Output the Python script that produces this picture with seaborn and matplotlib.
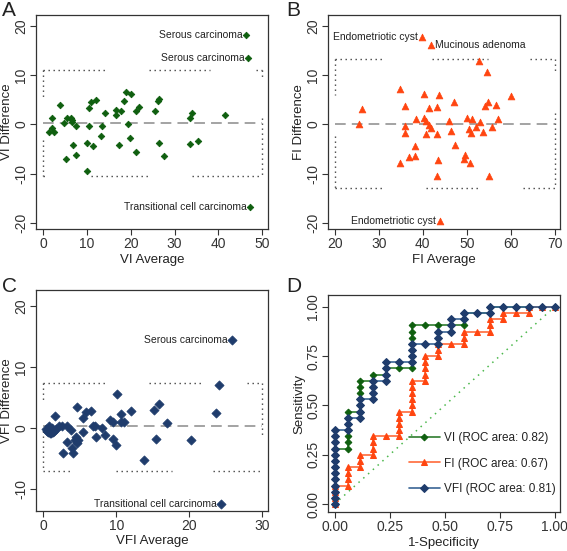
import numpy as np
import pandas as pd
import seaborn as sns
import matplotlib
import matplotlib.pyplot as plt

sns.set_style('ticks')
matplotlib.rcParams['font.family'] = ['Liberation Sans', 'DejaVu Sans']
matplotlib.rcParams['axes.edgecolor'] = '#333333'
matplotlib.rcParams['xtick.color'] = '#333333'
matplotlib.rcParams['ytick.color'] = '#333333'
matplotlib.rcParams['text.color'] = '#222222'
matplotlib.rcParams['axes.labelcolor'] = '#222222'

GREEN = '#0f5f0f'
ORANGE = '#ff4510'
NAVY = '#1f3c6c'

# ---------------- A : VI agreement ----------------
vi_avg = [46.4, 46.8, 47.3, 3.8, 1.9, 1.9, 1.4, 2.4, 4.7, 5.3, 6.3, 6.5, 6.5, 7.4,
          6.8, 5.2, 7.4, 10.0, 10.0, 10.5, 10.5, 10.8, 11.4, 12.1, 13.2, 13.5, 14.1,
          16.6, 16.6, 17.3, 17.7, 18.4, 18.8, 19.3, 20.0, 19.7, 21.1, 21.1, 21.8,
          25.6, 26.3, 26.5, 26.5, 27.6, 33.5, 33.9, 33.6, 35.3, 41.6]
vi_diff = [18.2, 13.4, -16.8, 3.9, 1.2, -0.7, -1.5, -1.5, 0.3, 1.2, 1.2, 0.9, 0.5, -0.3,
           -4.3, -7.0, -6.3, -3.9, -9.4, -0.3, 3.3, 4.5, -4.5, 4.9, -2.4, -0.3, 2.3,
           2.9, 1.9, -4.3, 2.7, 4.7, 6.5, 0.1, 6.1, -2.7, -5.6, 2.7, 3.5,
           2.7, 4.7, 5.1, -3.9, -6.4, 1.3, 2.3, -4.1, -3.3, 1.9]
vi_notes = [(46.4, 18.2, 'Serous carcinoma'), (46.8, 13.4, 'Serous carcinoma'),
            (47.3, -16.8, 'Transitional cell carcinoma')]
vi_mean, vi_upper, vi_lower = 0.2, 11.0, -10.6

# ---------------- B : FI agreement ----------------
fi_avg = [39.8, 41.9, 44.0, 26.3, 25.6, 34.8, 36.0, 36.0, 36.0, 34.8, 36.9, 38.2,
          38.2, 38.5, 40.4, 40.4, 40.7, 41.4, 41.4, 41.9, 40.8, 43.3, 43.7, 43.3,
          43.4, 43.2, 46.0, 52.7, 54.5, 60.1, 47.0, 54.8, 54.2, 56.6, 57.0, 50.1,
          51.3, 53.0, 52.1, 55.7, 46.4, 50.5, 51.0, 53.7, 47.3, 49.6, 49.4, 50.8, 55.0]
fi_diff = [17.7, 16.1, -19.7, 3.0, 0.0, 7.2, 3.8, -0.4, -1.8, -7.8, -6.6, -4.4,
           -6.4, 1.0, 6.2, 1.3, 0.7, 3.4, -0.1, -0.7, -2.0, 3.6, 6.0, -2.0,
           -7.3, -10.4, 0.7, 12.8, 10.6, 5.8, 4.5, 4.5, 3.8, 4.0, 1.0, 1.3,
           1.1, 0.5, -0.5, -0.5, -1.4, -1.0, -1.8, -1.6, -4.3, -6.3, -7.1, -7.9, -10.4]
fi_notes = [(39.8, 17.7, 'Endometriotic cyst'), (44.0, -19.7, 'Endometriotic cyst')]
fi_notes_right = [(41.9, 16.1, 'Mucinous adenoma')]
fi_mean, fi_upper, fi_lower = 0.0, 13.2, -13.0

# ---------------- C : VFI agreement ----------------
vfi_avg = [25.8, 24.4, 24.1, 23.7, 20.2, 16.9, 15.9, 15.1, 15.5, 13.8, 12.0, 10.7,
           10.7, 11.0, 10.1, 9.9, 9.6, 9.1, 9.6, 8.45, 8.0, 7.2, 6.85, 7.1, 6.5, 5.8,
           5.5, 5.4, 4.6, 4.4, 4.6, 4.8, 4.5, 4.0, 3.9, 3.75, 3.3, 3.3, 2.65, 2.5,
           1.6, 0.3, 0.5, 0.7, 0.9, 1.1, 1.3, 1.5, 1.8, 2.1, 0.8, 1.2]
vfi_diff = [14.5, -12.5, 7.1, 2.5, -1.9, 0.8, 3.9, 3.0, -1.8, -5.2, 2.8, 2.3,
            1.1, 1.0, 5.6, -2.7, -1.7, 1.4, 1.1, -1.1, 0.0, -1.4, 0.4, 0.4, 2.8, 2.6,
            1.6, -0.6, 3.5, -2.0, -2.4, -1.9, -1.5, -4.1, -3.3, -0.3, 0.4, -2.2, -4.1, 0.4,
            2.0, -0.2, -0.4, -0.6, -0.8, -0.8, -0.6, -0.4, -0.1, 0.3, 0.3, 0.1]
vfi_notes = [(25.8, 14.5, 'Serous carcinoma'), (24.4, -12.5, 'Transitional cell carcinoma')]
vfi_mean, vfi_upper, vfi_lower = 0.3, 7.4, -7.0

# ---------------- D : ROC (true positives reached at each false-positive count) ----
n_neg, n_pos = 17, 32
vi_tp = [9, 15, 20, 21, 22, 22, 29, 29, 29, 29, 31, 31, 32, 32, 32, 32, 32, 32]
fi_tp = [3, 6, 8, 11, 11, 15, 20, 24, 26, 26, 28, 28, 30, 31, 31, 32, 32, 32]
vfi_tp = [12, 14, 17, 20, 23, 23, 26, 26, 28, 30, 31, 31, 32, 32, 32, 32, 32, 32]
roc_labels = ['VI (ROC area: 0.82)', 'FI (ROC area: 0.67)', 'VFI (ROC area: 0.81)']


def roc_points(tp_top):
    fpr, tpr = [], []
    prev = 0
    for k, top in enumerate(tp_top):
        for t in range(prev, top + 1):
            fpr.append(k / n_neg)
            tpr.append(t / n_pos)
        prev = top
    return fpr, tpr


def dotted(ax, xs, ys):
    ax.plot(xs, ys, color='#444444', ls=(0, (1, 2.6)), lw=1.0)


def style(ax, xlim, ylim, xticks, yticks, xlabel, ylabel, fmt='{:g}'):
    ax.set_xlim(xlim)
    ax.set_ylim(ylim)
    ax.set_xticks(xticks)
    ax.set_yticks(yticks)
    ax.set_xticklabels([fmt.format(t) for t in xticks], fontsize=10)
    ax.set_yticklabels([fmt.format(t) for t in yticks], fontsize=10,
                       rotation=90, va='center')
    ax.set_xlabel(xlabel, fontsize=9.5, labelpad=2)
    ax.set_ylabel(ylabel, fontsize=9.5, labelpad=1)
    ax.tick_params(length=4, width=0.8, pad=1.5)
    for s in ax.spines.values():
        s.set_visible(True)
        s.set_linewidth(0.9)


fig = plt.figure(figsize=(5.67, 5.51), dpi=100)
axA = fig.add_axes([0.063, 0.584, 0.410, 0.389])
axB = fig.add_axes([0.5785, 0.584, 0.4086, 0.389])
axC = fig.add_axes([0.063, 0.0726, 0.410, 0.401])
axD = fig.add_axes([0.5785, 0.0702, 0.4086, 0.394])

# ---- A
ax = axA
ax.plot([0, 50], [vi_mean, vi_mean], color='#8a8a8a', ls=(0, (7, 4)), lw=1.1)
dotted(ax, [0, 14.6], [vi_upper] * 2)
dotted(ax, [24.2, 38.1], [vi_upper] * 2)
dotted(ax, [48.7, 50], [vi_upper] * 2)
dotted(ax, [0, 1.1], [vi_lower] * 2)
dotted(ax, [10.8, 24.5], [vi_lower] * 2)
dotted(ax, [33.9, 50], [vi_lower] * 2)
dotted(ax, [0, 0], [vi_upper, 5.3])
dotted(ax, [0, 0], [-3.2, vi_lower])
dotted(ax, [50, 50], [vi_upper, 9.4])
dotted(ax, [50, 50], [1.2, vi_lower])
sns.scatterplot(x=vi_avg, y=vi_diff, ax=ax, marker='D', s=11, color=GREEN,
                edgecolor=GREEN, linewidth=0.6, zorder=3)
for x, y, t in vi_notes:
    ax.text(x - 0.9, y, t, ha='right', va='center', fontsize=7.5)
style(ax, (-1.74, 51.4), (-21.3, 22.2), [0, 10, 20, 30, 40, 50], [-20, -10, 0, 10, 20],
      'VI Average', 'VI Difference')

# ---- B
ax = axB
ax.plot([20, 70], [fi_mean, fi_mean], color='#8a8a8a', ls=(0, (7, 4)), lw=1.1)
dotted(ax, [20, 31.4], [fi_upper] * 2)
dotted(ax, [42, 54.8], [fi_upper] * 2)
dotted(ax, [64.3, 70], [fi_upper] * 2)
dotted(ax, [20, 31], [fi_lower] * 2)
dotted(ax, [40.7, 53.1], [fi_lower] * 2)
dotted(ax, [62.8, 70], [fi_lower] * 2)
dotted(ax, [20, 20], [fi_upper, 6.0])
dotted(ax, [20, 20], [-2.4, fi_lower])
dotted(ax, [70, 70], [fi_upper, 10.7])
dotted(ax, [70, 70], [2.2, fi_lower])
sns.scatterplot(x=fi_avg, y=fi_diff, ax=ax, marker='^', s=24, color=ORANGE,
                edgecolor=ORANGE, linewidth=0.5, zorder=3)
for x, y, t in fi_notes:
    ax.text(x - 0.9, y, t, ha='right', va='center', fontsize=7.5)
for x, y, t in fi_notes_right:
    ax.text(x + 0.9, y, t, ha='left', va='center', fontsize=7.5)
style(ax, (18.5, 71.1), (-21.3, 22.2), [20, 30, 40, 50, 60, 70], [-20, -10, 0, 10, 20],
      'FI Average', 'FI Difference')

# ---- C
ax = axC
ax.plot([0, 30], [vfi_mean, vfi_mean], color='#8a8a8a', ls=(0, (7, 4)), lw=1.1)
dotted(ax, [0, 8.8], [vfi_upper] * 2)
dotted(ax, [14.5, 21.9], [vfi_upper] * 2)
dotted(ax, [27.9, 30], [vfi_upper] * 2)
dotted(ax, [0, 4.1], [vfi_lower] * 2)
dotted(ax, [10, 17.6], [vfi_lower] * 2)
dotted(ax, [23.3, 30], [vfi_lower] * 2)
dotted(ax, [0, 0], [vfi_upper, 4.7])
dotted(ax, [0, 0], [-0.5, vfi_lower])
dotted(ax, [30, 30], [vfi_upper, -1.1])
sns.scatterplot(x=vfi_avg, y=vfi_diff, ax=ax, marker='D', s=22, color=NAVY,
                edgecolor=NAVY, linewidth=0.5, zorder=3)
for x, y, t in vfi_notes:
    ax.text(x - 0.6, y, t, ha='right', va='center', fontsize=7.5)
style(ax, (-1.04, 30.8), (-13.6, 22.7), [0, 10, 20, 30], [-10, 0, 10, 20],
      'VFI Average', 'VFI Difference')

# ---- D
ax = axD
ax.plot([0, 1], [0, 1], color='#4cb84c', ls=(0, (1, 3.2)), lw=1.1)
for tp, col, lcol, mk, ms, lab in [
        (vi_tp, GREEN, '#2f7d2f', 'D', 3.4, roc_labels[0]),
        (fi_tp, ORANGE, '#ff6a3a', '^', 4.6, roc_labels[1]),
        (vfi_tp, NAVY, '#3a6595', 'D', 4.0, roc_labels[2])]:
    fx, ty = roc_points(tp)
    sns.lineplot(x=fx, y=ty, ax=ax, sort=False, estimator=None, color=lcol, lw=1.2,
                 marker=mk, markersize=ms, markerfacecolor=col, markeredgecolor=col,
                 label=lab)
leg = ax.legend(loc='lower right', bbox_to_anchor=(1.03, 0.03), frameon=False,
                fontsize=8.5, handlelength=2.6, labelspacing=1.15, handletextpad=0.4)
style(ax, (-0.03, 1.023), (-0.042, 1.059), [0, 0.25, 0.5, 0.75, 1.0],
      [0, 0.25, 0.5, 0.75, 1.0], '1-Specificity', 'Sensitivity', fmt='{:.2f}')

for lx, ly, letter in [(0.004, 0.998, 'A'), (0.504, 0.998, 'B'),
                       (0.004, 0.497, 'C'), (0.504, 0.497, 'D')]:
    fig.text(lx, ly, letter, ha='left', va='top', fontsize=15)

fig.savefig('out.png', dpi=100)
